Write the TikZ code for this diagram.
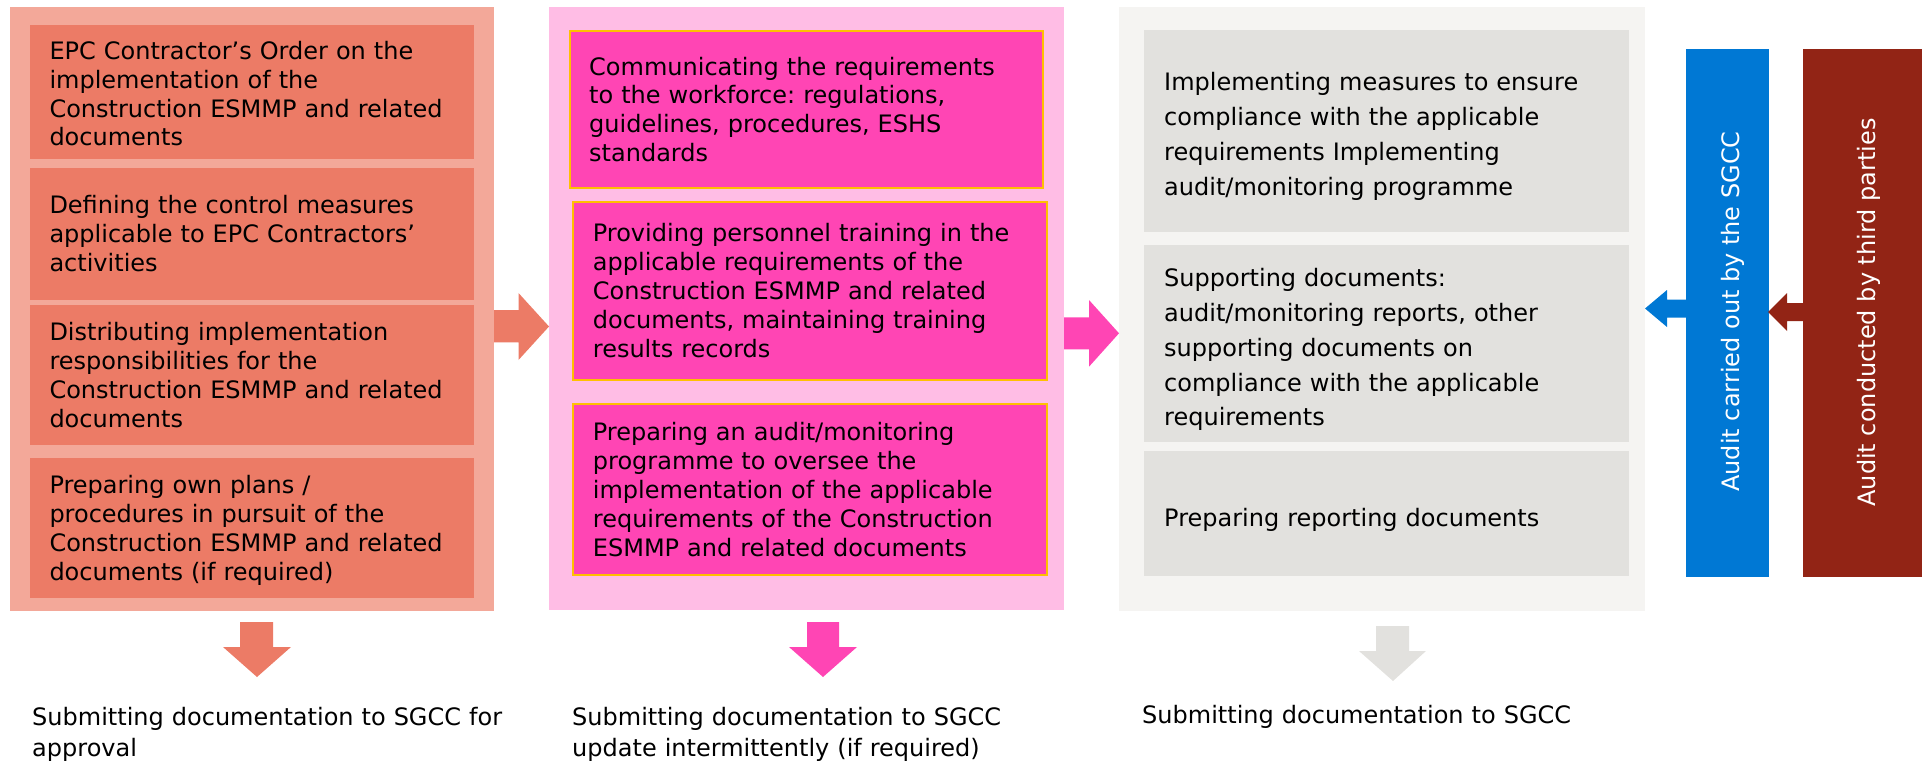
\documentclass[tikz,border=0pt]{standalone}
\usepackage{fontspec}
\setmainfont{DejaVu Sans}
\frenchspacing
% panel colours
\definecolor{salmonbg}{HTML}{F3A899}
\definecolor{salmon}{HTML}{EC7B66}
\definecolor{pinkbg}{HTML}{FFBDE5}
\definecolor{pinkbox}{HTML}{FF45B4}
\definecolor{goldline}{HTML}{FFC000}
\definecolor{greybg}{HTML}{F5F4F2}
\definecolor{greybox}{HTML}{E2E1DE}
\definecolor{auditblue}{HTML}{0078D4}
\definecolor{auditred}{HTML}{922415}
% \panel[options]{x1}{y1}{x2}{y2}{name}: a plain rectangle given by its corners
\newcommand\panel[6][]{%
  \node[panel,#1,minimum width={#4-#2},minimum height={#5-#3}] (#6) at (#2,#3) {};}
\begin{document}
\begin{tikzpicture}[x=1pt,y=-1pt,
  panel/.style={anchor=north west,inner sep=0pt,outer sep=0pt,draw=none},
  goldbox/.style={fill=pinkbox,draw=goldline,line width=2pt},
  txt/.style={anchor=base west,inner sep=0pt,text width=480pt,align=left,
    font=\fontsize{24}{28.9}\selectfont},
  txtwide/.style={txt,font=\fontsize{24}{34.8}\selectfont},
  txtfoot/.style={txt,font=\fontsize{24}{31.2}\selectfont},
  vtxt/.style={rotate=90,anchor=base,inner sep=0pt,text=white,
    font=\fontsize{24}{29}\selectfont}]
\useasboundingbox (0,0) rectangle (1925,768);

% ---- first column: contractor's own documents
\panel[fill=salmonbg]{10}{7}{494}{611}{L}
\panel[fill=salmon]{30}{25}{474}{159}{L1}
\panel[fill=salmon]{30}{168}{474}{300}{L2}
\panel[fill=salmon]{30}{305}{474}{444.5}{L3}
\panel[fill=salmon]{30}{458.3}{474}{597.7}{L4}
\node[txt] (tL1) at (49.3,59.3) {EPC Contractor’s Order on the\\implementation of the\\Construction ESMMP and related\\documents};
\node[txt] (tL2) at (49.3,213.3) {Defining the control measures\\applicable to EPC Contractors’\\activities};
\node[txt] (tL3) at (49.3,340.7) {Distributing implementation\\responsibilities for the\\Construction ESMMP and related\\documents};
\node[txt] (tL4) at (49.3,493.3) {Preparing own plans /\\procedures in pursuit of the\\Construction ESMMP and related\\documents (if required)};

% ---- second column: communication and training
\panel[fill=pinkbg]{549}{7}{1064}{609.5}{M}
\panel[goldbox]{570}{31}{1043}{188}{M1}
\panel[goldbox]{573}{202}{1047}{380}{M2}
\panel[goldbox]{573}{404}{1047}{575}{M3}
\node[txt] (tM1) at (589,75) {Communicating the requirements\\to the workforce: regulations,\\guidelines, procedures, ESHS\\standards};
\node[txt] (tM2) at (592.7,241.7) {Providing personnel training in the\\applicable requirements of the\\Construction ESMMP and related\\documents, maintaining training\\results records};
\node[txt] (tM3) at (592.7,440.7) {Preparing an audit/monitoring\\programme to oversee the\\implementation of the applicable\\requirements of the Construction\\ESMMP and related documents};

% ---- third column: implementation and reporting
\panel[fill=greybg]{1119}{7}{1645}{611}{R}
\panel[fill=greybox]{1144}{30}{1629}{232}{R1}
\panel[fill=greybox]{1144}{245}{1629}{442.3}{R2}
\panel[fill=greybox]{1144}{451}{1629}{575.7}{R3}
\node[txtwide] (tR1) at (1164,90.7) {Implementing measures to ensure\\compliance with the applicable\\requirements Implementing\\audit/monitoring programme};
\node[txtwide] (tR2) at (1164,286.7) {Supporting documents:\\audit/monitoring reports, other\\supporting documents on\\compliance with the applicable\\requirements};
\node[txtwide] (tR3) at (1164,526.7) {Preparing reporting documents};

% ---- audit bars
\panel[fill=auditblue]{1686}{49}{1769}{577}{A1}
\panel[fill=auditred]{1803}{49}{1922}{577}{A2}
\node[vtxt] (tA1) at (1739,311.5) {Audit carried out by the SGCC};
\node[vtxt] (tA2) at (1875,312.5) {Audit conducted by third parties};

% ---- block arrows between the columns
\fill[salmon] (494,310) -- (518.5,310) -- (518.5,293) -- (549,326.5)
  -- (518.5,360) -- (518.5,342.3) -- (494,342.3) -- cycle;
\fill[pinkbox] (1064,317.3) -- (1089,317.3) -- (1089,300) -- (1119,333.3)
  -- (1089,366.7) -- (1089,349.3) -- (1064,349.3) -- cycle;
\fill[auditblue] (1686,299.5) -- (1667,299.5) -- (1667,290) -- (1645,308.5)
  -- (1667,327) -- (1667,317.5) -- (1686,317.5) -- cycle;
\fill[auditred] (1803,303) -- (1787,303) -- (1787,293) -- (1768,312)
  -- (1787,331) -- (1787,321) -- (1803,321) -- cycle;

% ---- downward arrows to the submissions
\fill[salmon] (240,622) -- (273,622) -- (273,647) -- (291,647) -- (257,677)
  -- (223,647) -- (240,647) -- cycle;
\fill[pinkbox] (807,622) -- (839,622) -- (839,647) -- (857,647) -- (823,677)
  -- (789,647) -- (807,647) -- cycle;
\fill[greybox] (1376,626) -- (1409,626) -- (1409,651) -- (1426,651) -- (1393,681)
  -- (1359,651) -- (1376,651) -- cycle;

% ---- submissions
\node[txtfoot] (S1) at (32,725) {Submitting documentation to SGCC for\\approval};
\node[txtfoot] (S2) at (572,725) {Submitting documentation to SGCC\\update intermittently (if required)};
\node[txtfoot] (S3) at (1142,723) {Submitting documentation to SGCC};
\end{tikzpicture}
\end{document}
